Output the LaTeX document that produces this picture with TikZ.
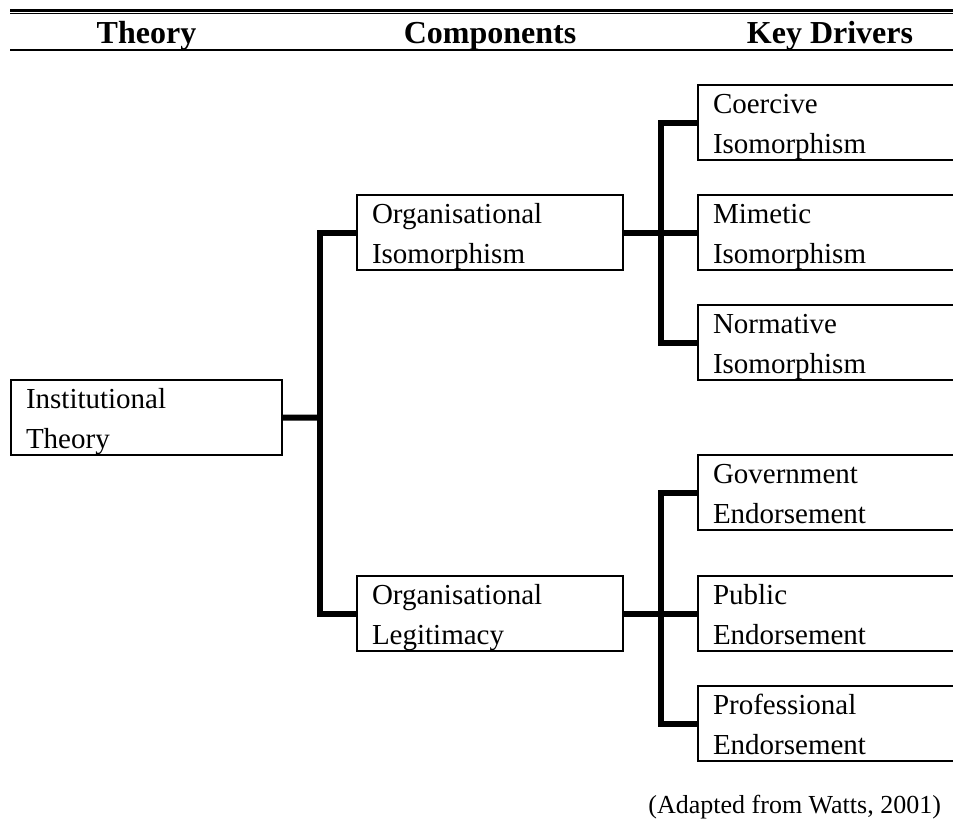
\documentclass[tikz,border=0pt]{standalone}
\usepackage{fontspec}
\setmainfont{Liberation Serif}

% two text lines in one box, first baseline and last depth fixed
\newcommand{\boxtext}[2]{\strut #1\\#2\rule[-3.5pt]{0pt}{3.5pt}}

\begin{document}
\begin{tikzpicture}[
    x=0.5pt, y=-0.5pt,
    font=\fontsize{14.5}{20}\selectfont,
    % Boxes
    box/.style   ={draw, line width=1pt, outer sep=0pt, inner xsep=7.5pt, inner ysep=0pt,
                   align=left, anchor=north west},
    theory/.style={box, text width=120.5pt},
    comp/.style  ={box, text width=118pt},
    driver/.style={box, text width=117pt},
    head/.style  ={anchor=base, font=\fontsize{16}{19}\selectfont\bfseries},
    % Rules and links
    link/.style  ={line width=3pt}
]

\clip (0,0) rectangle (953,825);

% Convenient x-positions for the columns
\def\cA{11}    % Theory
\def\cB{357}   % Components
\def\cC{698}   % Key Drivers

% Header rules
\draw[line width=1.35pt] (10,10.7) -- (960,10.7);
\draw[line width=0.5pt]  (10,13.8) -- (960,13.8);
\draw[line width=0.75pt] (10,50.2) -- (960,50.2);

% Column titles
\node[head] (hthe) at (146.5,43) {Theory};
\node[head] (hcom) at (490,43)   {Components};
\node[head] (hkey) at (830,43)   {Key Drivers};

% --------------------------- Theory ----------------------------------
\node[theory] (inst) at (\cA,380) {\boxtext{Institutional}{Theory}};

% -------------------------- Components -------------------------------
\node[comp] (oiso) at (\cB,195) {\boxtext{Organisational}{Isomorphism}};
\node[comp] (oleg) at (\cB,576) {\boxtext{Organisational}{Legitimacy}};

% -------------------------- Key Drivers ------------------------------
\node[driver] (coer) at (\cC,85)  {\boxtext{Coercive}{Isomorphism}};
\node[driver] (mime) at (\cC,195) {\boxtext{Mimetic}{Isomorphism}};
\node[driver] (norm) at (\cC,305) {\boxtext{Normative}{Isomorphism}};
\node[driver] (govt) at (\cC,455) {\boxtext{Government}{Endorsement}};
\node[driver] (publ) at (\cC,576) {\boxtext{Public}{Endorsement}};
\node[driver] (prof) at (\cC,686) {\boxtext{Professional}{Endorsement}};

% ======================== Links ======================================
\coordinate (trunkA) at (320,417.5);
\coordinate (trunkB) at (661,232.5);
\coordinate (trunkC) at (661,613.5);

% Theory -> components
\draw[link] (inst.east) -- (trunkA);
\draw[link] (oiso.west) -| (trunkA) |- (oleg.west);

% Isomorphism -> its drivers
\draw[link] (oiso.east) -- (mime.west);
\draw[link] (coer.west) -| (trunkB) |- (norm.west);

% Legitimacy -> its drivers
\draw[link] (oleg.east) -- (publ.west);
\draw[link] (govt.west) -| (trunkC) |- (prof.west);

% Source
\node[anchor=base east, font=\fontsize{13}{15}\selectfont] (src) at (948,813)
    {(Adapted from Watts, 2001)};

\end{tikzpicture}
\end{document}
